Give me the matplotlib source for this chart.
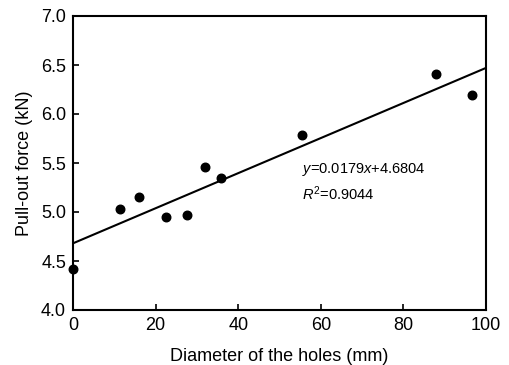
import numpy as np
import matplotlib
matplotlib.use('Agg')
import matplotlib.pyplot as plt

plt.rcParams['font.family'] = ['Liberation Sans', 'DejaVu Sans']
plt.rcParams['mathtext.fontset'] = 'custom'
plt.rcParams['mathtext.rm'] = 'Liberation Sans'
plt.rcParams['mathtext.it'] = 'Liberation Sans:italic'

diameter = [0.0, 11.3, 16.0, 22.5, 27.7, 32.0, 35.8, 55.4, 88.0, 96.5]
force = [4.42, 5.03, 5.15, 4.95, 4.97, 5.46, 5.35, 5.79, 6.41, 6.19]
slope = 0.0179
intercept = 4.6804

fig = plt.figure(figsize=(5.09, 3.65), dpi=100)
ax = fig.add_axes([73/509, 1-310/365, (486-73)/509, (310-16)/365])

ax.scatter(diameter, force, s=38, c='black', zorder=3, clip_on=False)
xf = np.array([0, 100])
ax.plot(xf, slope*xf + intercept, c='black', lw=1.5)

ax.text(55.5, 5.43, r'$\it{y}$=0.0179$\it{x}$+4.6804', fontsize=10.5, va='center')
ax.text(55.5, 5.19, r'$\it{R}^{2}$=0.9044', fontsize=10.5, va='center')

ax.set_xlim(0, 100)
ax.set_ylim(4.0, 7.0)
ax.set_xticks([0, 20, 40, 60, 80, 100])
ax.set_yticks([4.0, 4.5, 5.0, 5.5, 6.0, 6.5, 7.0])
ax.set_yticklabels(['4.0', '4.5', '5.0', '5.5', '6.0', '6.5', '7.0'])
ax.tick_params(direction='in', length=4, width=1.2, labelsize=13, pad=5)
for s in ax.spines.values():
    s.set_linewidth(1.5)
ax.set_xlabel('Diameter of the holes (mm)', fontsize=13, labelpad=10)
ax.set_ylabel('Pull-out force (kN)', fontsize=13, labelpad=6)

fig.savefig('out.png', dpi=100)
